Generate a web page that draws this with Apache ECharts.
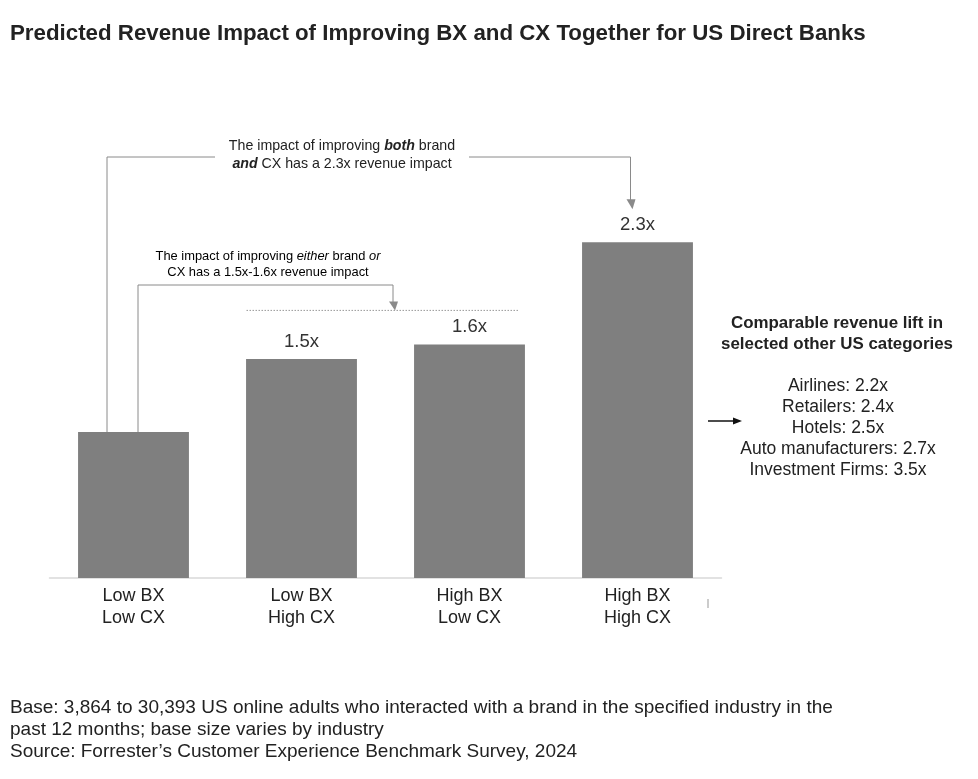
<!DOCTYPE html>
<html>
<head>
<meta charset="utf-8">
<script src="https://cdn.jsdelivr.net/npm/echarts@6/dist/echarts.min.js"></script>
<style>
html,body{margin:0;padding:0;background:#fff;}
#chart{width:978px;height:779px;}
</style>
</head>
<body>
<div id="chart"></div>
<script>
const categories = ['Low BX\nLow CX', 'Low BX\nHigh CX', 'High BX\nLow CX', 'High BX\nHigh CX'];
const values = [1.0, 1.5, 1.6, 2.3];
const valueLabels = ['', '1.5x', '1.6x', '2.3x'];
const otherTitle = 'Comparable revenue lift in\nselected other US categories';
const otherCategories = ['Airlines: 2.2x', 'Retailers: 2.4x', 'Hotels: 2.5x', 'Auto manufacturers: 2.7x', 'Investment Firms: 3.5x'];
const footnotes = [
  'Base: 3,864 to 30,393 US online adults who interacted with a brand in the specified industry in the',
  'past 12 months; base size varies by industry',
  'Source: Forrester\u2019s Customer Experience Benchmark Survey, 2024'
];
const titleText = 'Predicted Revenue Impact of Improving BX and CX Together for US Direct Banks';

const FONT = '"Liberation Sans", Arial, Helvetica, sans-serif';
const chart = echarts.init(document.getElementById('chart'));
const option = {
  animation: false,
  backgroundColor: '#fff',
  title: {
    text: titleText, left: 5, top: 18,
    textStyle: { fontFamily: FONT, fontSize: 22.3, fontWeight: 'bold', color: '#222' }
  },
  grid: { left: 49.5, right: 256.5, top: 140, bottom: 201 },
  xAxis: {
    type: 'category', data: categories,
    axisLine: { lineStyle: { color: '#d9d9d9', width: 1.5 } },
    axisTick: { show: false },
    axisLabel: { fontFamily: FONT, fontSize: 18, color: '#222', lineHeight: 22, margin: 7 }
  },
  yAxis: { type: 'value', min: 0, max: 3, show: false, splitLine: { show: false } },
  series: [{
    type: 'bar', data: values, barWidth: '66%',
    itemStyle: { color: '#7f7f7f' },
    label: {
      show: true, position: 'top', distance: 8,
      fontFamily: FONT, fontSize: 18.5, color: '#333',
      formatter: p => valueLabels[p.dataIndex]
    }
  }]
};
chart.setOption(option);

function px(i, v) { return chart.convertToPixel({ seriesIndex: 0 }, [i, v]); }
const b0 = px(0, values[0]);
const b1 = px(1, values[1]);
const b2 = px(2, values[2]);
const b3 = px(3, values[3]);
const LC = '#8a8a8a';

const lineStyle = { stroke: LC, lineWidth: 1 };
const g = [];
// Top bracket (both)
const topY = 157;
const x1 = b0[0] - 26.5;
const xArrow1 = b3[0] - 7;
const arrow1Tip = b3[1] - 33;
g.push({ type: 'polyline', shape: { points: [[x1, b0[1]], [x1, topY], [215, topY]] }, style: Object.assign({ fill: null }, lineStyle) });
g.push({ type: 'polyline', shape: { points: [[469, topY], [xArrow1, topY], [xArrow1, arrow1Tip - 8]] }, style: Object.assign({ fill: null }, lineStyle) });
g.push({ type: 'polygon', shape: { points: [[xArrow1 - 4, arrow1Tip - 10], [xArrow1 + 5, arrow1Tip - 10], [xArrow1 + 2, arrow1Tip]] }, style: { fill: LC } });
g.push({
  type: 'text', x: 342, y: 155,
  style: {
    text: '{n|The impact of improving }{bi|both}{n| brand}\n{bi|and}{n| CX has a 2.3x revenue impact}',
    align: 'center', verticalAlign: 'middle', fill: '#222',
    rich: {
      n: { fontFamily: FONT, fontSize: 14.2, color: '#222', lineHeight: 18 },
      bi: { fontFamily: FONT, fontSize: 14.2, color: '#222', fontWeight: 'bold', fontStyle: 'italic', lineHeight: 18 }
    }
  }
});
// Second bracket (either)
const y2 = 285;
const x2 = b0[0] + 4.5;
const xArrow2 = (b1[0] + b2[0]) / 2 + 7.5;
const dotY = b2[1] - 34;
g.push({ type: 'polyline', shape: { points: [[x2, b0[1]], [x2, y2], [xArrow2, y2], [xArrow2, dotY - 7]] }, style: Object.assign({ fill: null }, lineStyle) });
g.push({ type: 'polygon', shape: { points: [[xArrow2 - 4, dotY - 9], [xArrow2 + 5, dotY - 9], [xArrow2 + 2, dotY]] }, style: { fill: LC } });
g.push({ type: 'line', shape: { x1: b1[0] - 55, y1: dotY, x2: b2[0] + 50, y2: dotY }, style: { stroke: '#999', lineWidth: 1, lineDash: [1.5, 1.5] } });
g.push({
  type: 'text', x: 268, y: 264.5,
  style: {
    text: '{n|The impact of improving }{i|either}{n| brand }{i|or}\n{n|CX has a 1.5x-1.6x revenue impact}',
    align: 'center', verticalAlign: 'middle',
    rich: {
      n: { fontFamily: FONT, fontSize: 12.9, color: '#222', lineHeight: 15.5 },
      i: { fontFamily: FONT, fontSize: 12.9, color: '#222', fontStyle: 'italic', lineHeight: 15.5 }
    }
  }
});
// Right panel
g.push({
  type: 'text', x: 837, y: 334,
  style: { text: otherTitle, align: 'center', verticalAlign: 'middle', fontFamily: FONT, fontSize: 16.9, fontWeight: 'bold', fill: '#222', lineHeight: 21 }
});
g.push({
  type: 'text', x: 838, y: 428,
  style: { text: otherCategories.join('\n'), align: 'center', verticalAlign: 'middle', fontFamily: FONT, fontSize: 17.5, fill: '#222', lineHeight: 21 }
});
g.push({ type: 'line', shape: { x1: 708, y1: 421, x2: 736, y2: 421 }, style: { stroke: '#111', lineWidth: 1.5 } });
g.push({ type: 'polygon', shape: { points: [[733, 417.5], [742, 421], [733, 424.5]] }, style: { fill: '#111' } });
// small tick
g.push({ type: 'line', shape: { x1: 708, y1: 599, x2: 708, y2: 608 }, style: { stroke: '#999', lineWidth: 1 } });
// footnotes
g.push({
  type: 'text', x: 10, y: 697,
  style: { text: footnotes.join('\n'), fontFamily: FONT, fontSize: 19, fill: '#222', lineHeight: 22 }
});
chart.setOption({ graphic: g });
</script>
</body>
</html>
